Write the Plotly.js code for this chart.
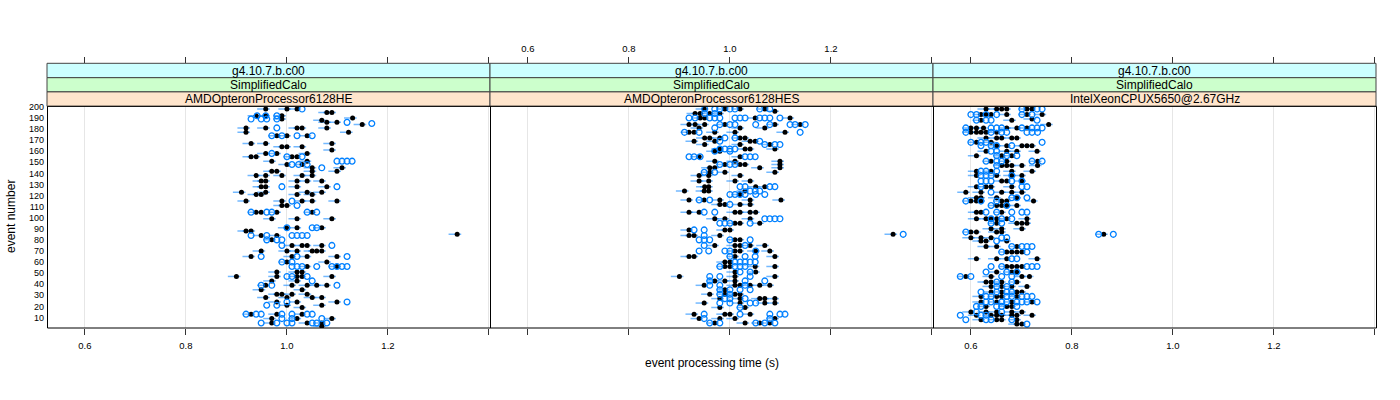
<!DOCTYPE html>
<html>
<head>
<meta charset="utf-8">
<script src="https://cdn.plot.ly/plotly-3.0.1.min.js"></script>
<style>html,body{margin:0;padding:0;background:#fff}#chart{width:1400px;height:400px}</style>
</head>
<body>
<div id="chart"></div>
<script>
// ---- data ----
const panelNames = ["AMDOpteronProcessor6128HE", "AMDOpteronProcessor6128HES", "IntelXeonCPUX5650@2.67GHz"];
const stripVersion = "g4.10.7.b.c00";
const stripSuite = "SimplifiedCalo";
const xTickVals = [0.6, 0.8, 1.0, 1.2, 1.4];
const xTickText = ["0.6", "0.8", "1.0", "1.2", ""];
const yTickVals = [10,20,30,40,50,60,70,80,90,100,110,120,130,140,150,160,170,180,190,200];

// panel 1: AMDOpteronProcessor6128HE
const p1BlackRows = [198,195,192,190,189,188,186,184,181,177,174,167,164,161,158,155,151,148,145,142,138,133,128,123,121,115,111,105,99,91,88,85,84,80,75,70,65,60,56,51,47,43,39,35,31,28,24,21,19,13,9,5,2];
const p1BlackTimes = [[0.958,1.000,1.020],[1.079,1.089],[0.939,0.958,0.990],[1.130],[0.990],[1.069],[1.079,1.099],[1.149],
 [0.919,0.958,1.020,1.030,1.079],[0.919,1.122],[0.980,1.000,1.040],[0.929,0.958,1.089],[0.990,1.000,1.030],[1.089],
 [0.958,0.980,1.040],[0.929,0.939,1.010,1.020],[0.970,1.040],[1.000,1.030],[1.050,1.109],[0.970,0.980,1.050,1.099],
 [0.939,0.958,0.990,1.030,1.050],[0.949,0.958,1.020,1.040,1.069],[0.949,0.958,1.020,1.079],[0.910,0.958,1.040,1.069],
 [0.939,0.949,1.020,1.050],[0.919,0.990,1.030,1.050,1.099],[0.990,1.000],[0.939,0.949,0.980,1.050],[0.970,1.020,1.089],
 [0.999,1.020,1.069],[0.919,0.929],[1.337],[0.949,0.980],[0.970],[1.010,1.030,1.040,1.069],[0.949,1.000,1.020,1.050,1.059,1.069],
 [0.929,1.010,1.040,1.099],[1.000,1.079],[1.040,1.099],[0.980,1.020,1.030],[0.900,0.980,1.020,1.030,1.089],[0.970,1.020],
 [0.958,1.010,1.040,1.059,1.079],[0.949,1.030],[0.980,0.990,1.010,1.040],[0.958,1.000,1.050,1.069],[0.980,1.020,1.099],
 [1.000,1.069],[1.030],[0.929,0.980,1.030],[0.970,1.020,1.089],[0.970,1.040,1.069],[1.069]];
const p1BlueRows = [198,192,189,186,185,181,174,158,155,151,148,145,128,115,111,105,91,84,80,75,65,60,56,47,43,39,24,21,13,9,5];
const p1BlueTimes = [[1.030],[0.941,0.958,0.980],[0.929,0.949,0.960,0.980],[1.119],[1.168],[0.980],[0.970,0.990,1.020,1.050],
 [0.970],[1.000,1.030],[1.099,1.109,1.119,1.129],[1.010,1.023,1.040],[1.069],[0.990,1.099],[1.010],[1.020],
 [0.929,0.960,0.970,1.040,1.059],[1.000,1.050,1.059],[0.929,0.960,1.010,1.020,1.030,1.040],[0.960,0.980,0.990],[0.990,1.089],
 [0.949,1.020,1.119],[0.990,1.010],[1.010,1.020,1.030,1.059,1.089,1.099,1.109,1.119],[1.000,1.010,1.040],[1.050],
 [0.949,0.970,1.099],[1.000,1.119],[0.960,0.980],[0.919,0.939,0.949,0.990,1.010,1.040,1.050],[0.990,1.010,1.069],
 [0.949,0.980,1.000,1.010,1.050,1.059,1.079]];

// panel 2: AMDOpteronProcessor6128HES
const p2BlackRows = [198,196,194,190,184,181,177,172,169,166,162,160,155,151,148,145,141,138,133,128,124,121,116,112,105,99,95,89,85,84,80,75,70,65,60,56,51,47,43,39,35,31,27,23,19,13,9,5];
const p2BlackTimes = [[0.949,0.990,1.020,1.069],[1.089],[0.931,0.941,0.960,0.980],[0.941,0.950,1.050,1.119],
 [0.919,0.931,0.950,0.990,1.089,1.139],[0.939,1.020,1.069],[0.919,0.929,0.970,1.010,1.109],[0.950,0.960,0.980,1.020,1.030],
 [0.929,0.970,1.040,1.050],[0.950,1.020,1.079],[0.980,1.030,1.040,1.089],[0.970,0.980],[0.939,1.020],[0.970,1.010,1.099],
 [0.990,1.020,1.030,1.099],[0.960,0.970,1.059,1.099],[0.960,0.990,1.089],[0.939,0.958,1.020],[0.939,0.958,1.010,1.040],
 [0.950,0.958,1.051,1.069],[0.910,0.949,0.958,1.030],[1.020],[0.919,0.949,0.980,1.040,1.101],[0.980,0.990,1.020,1.040],
 [0.919,0.939,1.010,1.020,1.040,1.051],[0.970,0.990,1.040],[1.010,1.020,1.059],[0.919,0.990,1.000],[1.323],[0.919,0.929,0.980],
 [1.010,1.020],[0.970,1.010,1.020,1.040,1.069],[1.010,1.020,1.051,1.079],[0.919,0.929,1.010,1.089],[0.990,1.000],
 [0.990,1.000,1.050,1.089],[1.010,1.051],[0.900,1.010,1.089],[0.970,0.990,1.010],[0.949,1.010,1.020,1.040,1.059,1.079],
 [0.990],[0.960,0.990,1.010,1.020],[0.980,1.020,1.059,1.069,1.089],[0.949,1.020,1.069,1.089],[0.980,1.030],
 [0.929,0.990,1.000,1.040],[0.939,0.980,1.010,1.089],[0.970,1.030,1.059,1.079]];
const p2BlueRows = [198,194,190,184,181,177,172,169,166,162,160,155,148,141,128,124,121,116,112,105,99,95,89,85,84,80,75,70,65,60,56,51,47,43,39,35,31,27,23,19,13,9,5];
const p2BlueTimes = [[0.950,0.970,0.980,1.000,1.010,1.059,1.079],[0.950,0.970],
 [0.919,0.931,0.960,0.970,0.980,1.010,1.020,1.030,1.059,1.069,1.079,1.099],[0.980,1.000,1.010,1.051,1.079,1.119,1.129,1.149],
 [0.970],[0.910,0.939,1.139],[0.990,1.010],[0.980,1.059],[1.069,1.089,1.099],[0.980,0.990,1.000,1.010],[0.970,1.000],
 [0.919,0.929,0.941,1.030,1.040,1.050],[0.980,1.000,1.010],[0.949,0.970],[1.020,1.030,1.079,1.089],[1.040,1.050,1.059],
 [1.000,1.010,1.020,1.030,1.051,1.069],[0.939,0.960],[1.000],[0.949,0.970],[1.069,1.079,1.089,1.099],[0.980,0.990,1.000,1.040],
 [0.929,0.949],[1.343],[0.949],[0.939,0.949,0.960,1.000,1.040],[0.949,1.030],[0.939,0.958,0.990,1.000,1.051],[1.000,1.030,1.050],
 [1.010,1.020,1.030,1.040,1.050],[0.980,1.010,1.020,1.030],[1.020,1.040],[0.960,0.980,1.040],[0.960,1.030,1.069],
 [0.960,0.980,1.030],[0.980,1.000,1.020,1.040],[0.980,1.000],[0.990,1.000,1.030],[0.980,1.000,1.040,1.051],[1.020],
 [0.949,1.020,1.079,1.099,1.109],[0.949,1.079],[0.960,0.980,1.051,1.069,1.089]];

// panel 3: IntelXeonCPUX5650@2.67GHz
const p3BlackRows = [198,193,189,188,184,181,177,172,168,165,160,156,151,147,142,138,133,128,123,118,115,111,105,99,95,90,87,85,82,79,74,69,63,56,51,47,42,38,33,29,24,20,15,12,8,4];
const p3BlackTimes = [[0.630,0.651,0.661,0.671,0.711,0.721],[0.620,0.630,0.640,0.671,0.711,0.741],[0.721],[0.620,0.681],[0.754],
 [0.600,0.611,0.625,0.671,0.691,0.711],[0.600,0.611,0.620,0.630,0.651],[0.630,0.651,0.661,0.681,0.691],[0.611,0.640],
 [0.651,0.671,0.701,0.711,0.721],[0.630,0.671,0.691,0.731],[0.611,0.661,0.681],[0.640,0.671,0.732],[0.661,0.671,0.681,0.701,0.732],
 [0.611,0.640,0.681,0.721],[0.611,0.651,0.681,0.701],[0.661,0.671,0.701],[0.611,0.630,0.640,0.681],[0.590,0.620,0.661,0.681,0.701],
 [0.611,0.620,0.651,0.691],[0.600,0.611,0.620,0.661,0.671,0.724],[0.651,0.661,0.671,0.691],[0.611,0.620,0.661],
 [0.611,0.630,0.640,0.651,0.671,0.711],[0.651,0.691,0.701,0.711],[0.640,0.661,0.701],[0.600,0.611,0.651,0.661],[0.863],
 [0.600,0.620,0.640],[0.620,0.630,0.671],[0.630,0.651,0.691],[0.671,0.681,0.691,0.701],[0.611,0.651,0.671,0.731],
 [0.671,0.681,0.691,0.701],[0.651,0.681,0.691],[0.590,0.640,0.701,0.716],[0.630,0.640,0.661,0.691],[0.640,0.661,0.681,0.711],
 [0.640,0.661,0.691,0.701],[0.620,0.651,0.661,0.691],[0.620,0.651,0.681,0.721],[0.630,0.671,0.681],[0.600,0.630,0.651,0.681,0.701],
 [0.611,0.640,0.651,0.661,0.681,0.691,0.721],[0.620,0.651,0.661,0.691],[0.691,0.701]];
const p3BlueRows = [198,193,188,181,177,168,165,160,156,151,147,142,138,133,128,123,118,115,111,105,99,95,87,85,82,79,74,69,63,56,51,47,42,38,33,29,24,20,15,12,8,4];
const p3BlueTimes = [[0.701,0.731,0.741],[0.600,0.611,0.630,0.651,0.701,0.721],[0.611,0.630,0.640,0.731],
 [0.590,0.640,0.651,0.661,0.701,0.721,0.731,0.741],[0.590,0.640,0.661,0.671,0.711,0.721,0.732],[0.600,0.620,0.630,0.741],
 [0.620,0.640,0.651,0.681],[0.640,0.651],[0.651,0.671,0.691],[0.630,0.651,0.661,0.721,0.741],[0.651],[0.620,0.630,0.651],
 [0.620,0.630,0.640,0.681],[0.620,0.630,0.640,0.681,0.701],[0.620,0.701,0.711],[0.640],[0.681,0.691,0.711],[0.590,0.620,0.651],
 [0.640,0.671],[0.630,0.651,0.681,0.701,0.711],[0.640,0.661,0.681],[0.640,0.661],[0.590],[0.853,0.882],[0.661,0.671],[0.651],
 [0.681,0.701,0.711,0.721],[0.661,0.711],[0.681,0.691],[0.640,0.661,0.711,0.721,0.731],[0.630,0.671,0.691],[0.579,0.600,0.661,0.681],
 [0.651,0.681],[0.651,0.671],[0.620,0.651,0.671,0.681],[0.630,0.640,0.671,0.681,0.701,0.711,0.721],
 [0.630,0.640,0.661,0.671,0.691,0.701,0.711,0.731],[0.611,0.620,0.651,0.661,0.691],[0.611,0.661],[0.579,0.620,0.630],
 [0.590,0.630,0.640,0.681],[0.711]];

// ---- build ----
function flat(rows, times) {
  const ev = [], t = [];
  rows.forEach((r, i) => times[i].forEach(v => { ev.push(r); t.push(v); }));
  return {ev, t};
}
const panels = [
  {black: flat(p1BlackRows, p1BlackTimes), blue: flat(p1BlueRows, p1BlueTimes)},
  {black: flat(p2BlackRows, p2BlackTimes), blue: flat(p2BlueRows, p2BlueTimes)},
  {black: flat(p3BlackRows, p3BlackTimes), blue: flat(p3BlueRows, p3BlueTimes)}
];
const FONT = "Liberation Sans, Arial, Helvetica, sans-serif";
const W = 1400, H = 400;
const px = v => v / W, py = v => 1 - v / H;
const panelEdges = [[47, 490], [490, 933], [933, 1376]];
const xRange = [0.525, 1.402];

const traces = [];
panels.forEach((p, i) => {
  const xa = i === 0 ? 'x' : 'x' + (i + 1);
  traces.push({
    type: 'scatter', mode: 'markers', x: p.black.t, y: p.black.ev, xaxis: xa, yaxis: 'y',
    marker: {symbol: 'circle', size: 5, color: '#000000'},
    error_x: {type: 'constant', symmetric: false, value: 0.008, valueminus: 0.017,
              color: 'rgba(0,128,255,0.55)', thickness: 1.5, width: 0},
    hoverinfo: 'x+y'
  });
  traces.push({
    type: 'scatter', mode: 'markers', x: p.blue.t, y: p.blue.ev, xaxis: xa, yaxis: 'y',
    marker: {symbol: 'circle-open', size: 5.8, color: '#0080ff', line: {width: 1.3, color: '#0080ff'}},
    hoverinfo: 'x+y'
  });
});
// empty traces so the top (alternating) axes get drawn
['x4', 'x5', 'x6'].forEach(a => traces.push({type: 'scatter', mode: 'markers', x: [], y: [], xaxis: a, yaxis: 'y', hoverinfo: 'skip'}));

const baseX = (i, labels) => ({
  domain: [px(panelEdges[i][0]), px(panelEdges[i][1])],
  range: xRange, anchor: 'y',
  tickmode: 'array', tickvals: xTickVals, ticktext: xTickText,
  ticks: 'outside', ticklen: 6, tickwidth: 1, tickcolor: '#333', ticklabelstandoff: 3,
  showticklabels: labels, tickfont: {family: FONT, size: 9.5, color: '#000'},
  showgrid: true, gridcolor: '#e6e6e6', gridwidth: 1, zeroline: false, showline: false,
  fixedrange: true
});
const topX = (i, labels, over) => ({
  domain: [px(panelEdges[i][0]), px(panelEdges[i][1])],
  range: xRange, overlaying: over, side: 'top', anchor: 'free', position: py(63.3),
  tickmode: 'array', tickvals: xTickVals, ticktext: xTickText,
  ticks: 'outside', ticklen: 6, tickwidth: 1, tickcolor: '#333', ticklabelstandoff: 2,
  showticklabels: labels, tickfont: {family: FONT, size: 9.5, color: '#000'},
  showgrid: false, zeroline: false, showline: false, fixedrange: true
});

const shapes = [], annotations = [];
const strips = [
  {y0: 63.3, y1: 77.7, fill: '#ccffff', text: () => stripVersion},
  {y0: 77.7, y1: 91.9, fill: '#ccffcc', text: () => stripSuite},
  {y0: 91.9, y1: 106.3, fill: '#ffe5cc', text: i => panelNames[i]}
];
['x', 'x2', 'x3'].forEach((xa, i) => {
  strips.forEach(s => {
    shapes.push({type: 'rect', xref: xa + ' domain', yref: 'paper', x0: 0, x1: 1, y0: py(s.y1), y1: py(s.y0),
                 fillcolor: s.fill, line: {color: '#444', width: 1}, layer: 'above'});
    annotations.push({xref: xa + ' domain', yref: 'paper', x: 0.5, y: py((s.y0 + s.y1) / 2),
                      xanchor: 'center', yanchor: 'middle', showarrow: false, text: s.text(i),
                      font: {family: FONT, size: 12, color: '#000'}});
  });
});
// panel frames: one outer box plus the two separators
shapes.push({type: 'rect', xref: 'paper', yref: 'y domain', x0: px(47.5), x1: px(1376.5), y0: 0, y1: 1,
             line: {color: '#000', width: 1}, layer: 'above'});
[490.5, 933.5].forEach(xp => shapes.push({type: 'line', xref: 'paper', yref: 'y domain', x0: px(xp), x1: px(xp), y0: 0, y1: 1,
             line: {color: '#000', width: 1}, layer: 'above'}));
annotations.push({xref: 'paper', yref: 'paper', x: px(711.5), y: py(363), xanchor: 'center', yanchor: 'middle',
                  showarrow: false, text: 'event processing time (s)', font: {family: FONT, size: 12, color: '#000'}});
annotations.push({xref: 'paper', yref: 'paper', x: px(11), y: py(217), xanchor: 'center', yanchor: 'middle',
                  showarrow: false, textangle: -90, text: 'event number', font: {family: FONT, size: 12, color: '#000'}});

const layout = {
  width: W, height: H, margin: {l: 0, r: 0, t: 0, b: 0}, paper_bgcolor: '#fff', plot_bgcolor: '#fff',
  showlegend: false, font: {family: FONT, color: '#000'},
  xaxis: baseX(0, true), xaxis2: baseX(1, false), xaxis3: baseX(2, true),
  xaxis4: topX(0, false, 'x'), xaxis5: topX(1, true, 'x2'), xaxis6: topX(2, false, 'x3'),
  yaxis: {
    domain: [py(328), py(106.3)], range: [0.5, 200.5], anchor: 'x',
    tickmode: 'array', tickvals: yTickVals, ticks: '', ticklabelstandoff: 2,
    tickfont: {family: FONT, size: 9, color: '#000'}, showgrid: false, zeroline: false, showline: false, fixedrange: true
  },
  shapes, annotations
};
Plotly.newPlot('chart', traces, layout, {displayModeBar: false, staticPlot: true});
</script>
</body>
</html>
